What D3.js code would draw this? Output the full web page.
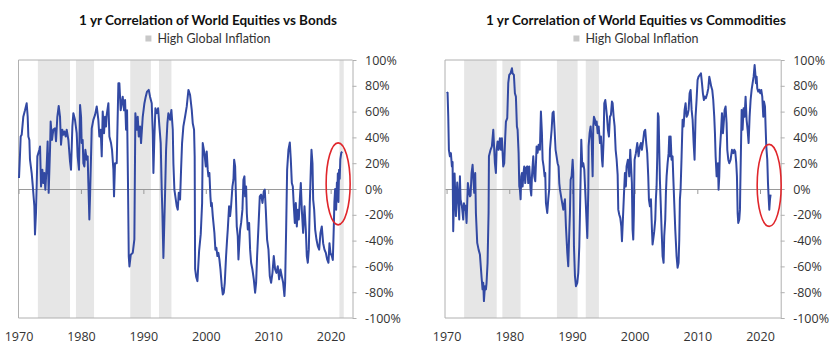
<!DOCTYPE html>
<html><head><meta charset="utf-8">
<script src="https://cdn.jsdelivr.net/npm/d3@7"></script>
<style>body{margin:0;background:#fff}</style>
</head><body>
<svg id="c" width="840" height="357"></svg>
<script>
const bondYears = [1970.08,1970.24,1970.35,1970.51,1970.77,1971.04,1971.31,1971.47,1971.58,1971.74,1971.84,1972.11,1972.27,1972.54,1972.64,1972.80,1972.91,1973.02,1973.34,1973.45,1973.61,1973.82,1973.98,1974.14,1974.30,1974.51,1974.67,1974.83,1975.05,1975.15,1975.37,1975.58,1975.85,1976.01,1976.22,1976.44,1976.65,1976.81,1977.02,1977.18,1977.35,1977.56,1977.72,1977.99,1978.25,1978.41,1978.63,1978.79,1979.05,1979.32,1979.48,1979.69,1979.86,1980.02,1980.12,1980.28,1980.39,1980.55,1980.71,1980.92,1981.08,1981.19,1981.35,1981.46,1981.73,1981.99,1982.26,1982.53,1982.79,1982.95,1983.17,1983.33,1983.49,1983.70,1983.86,1984.02,1984.13,1984.40,1984.56,1984.82,1984.98,1985.20,1985.30,1985.46,1985.73,1986.00,1986.16,1986.37,1986.53,1986.69,1986.91,1987.07,1987.23,1987.39,1987.55,1987.66,1987.77,1987.98,1988.30,1988.56,1988.72,1988.94,1989.10,1989.26,1989.47,1989.63,1989.90,1990.17,1990.38,1990.59,1990.86,1991.07,1991.34,1991.50,1991.61,1991.77,1991.93,1992.14,1992.36,1992.57,1992.78,1992.94,1993.05,1993.21,1993.37,1993.48,1993.64,1993.85,1994.01,1994.28,1994.49,1994.71,1994.81,1994.97,1995.35,1995.51,1995.67,1995.88,1996.04,1996.20,1996.41,1996.68,1996.95,1997.22,1997.48,1997.75,1997.91,1998.12,1998.22,1998.29,1998.45,1998.66,1998.93,1999.19,1999.41,1999.51,1999.78,2000.00,2000.15,2000.31,2000.42,2000.58,2000.74,2000.85,2000.96,2001.12,2001.38,2001.54,2001.70,2001.86,2002.02,2002.18,2002.35,2002.56,2002.72,2002.88,2003.04,2003.25,2003.41,2003.52,2003.73,2003.89,2004.05,2004.27,2004.43,2004.54,2004.70,2004.80,2004.96,2005.12,2005.23,2005.50,2005.66,2005.87,2006.03,2006.19,2006.30,2006.46,2006.57,2006.73,2006.94,2007.10,2007.26,2007.47,2007.69,2007.90,2008.06,2008.22,2008.44,2008.65,2008.86,2009.08,2009.29,2009.45,2009.61,2009.82,2010.04,2010.25,2010.46,2010.68,2010.89,2011.11,2011.32,2011.53,2011.75,2011.96,2012.17,2012.39,2012.60,2012.71,2012.87,2013.03,2013.24,2013.46,2013.62,2013.78,2013.94,2014.10,2014.26,2014.42,2014.58,2014.74,2014.90,2015.06,2015.22,2015.38,2015.59,2015.81,2016.02,2016.18,2016.34,2016.50,2016.66,2016.82,2016.93,2017.09,2017.20,2017.36,2017.52,2017.73,2017.94,2018.16,2018.37,2018.58,2018.80,2019.01,2019.23,2019.44,2019.65,2019.81,2019.97,2020.19,2020.35,2020.50,2020.60,2020.72,2020.88,2021.00,2021.05,2021.15,2021.25,2021.35,2021.45,2021.55,2021.70,2021.84];
const bondValues = [8.5,26.5,40.7,42,56,61,66.5,56,40.7,38,22.7,12.4,3.4,-13.4,-35.3,-18.6,2,25.3,30.4,33,2,15,4.6,12.4,-0.5,17.5,36.9,-3,30.4,52.3,38,46,47,37,56,64.4,56,34.3,46,42,44.6,40.7,46,38,21.4,15,48.5,58.8,53.6,43.3,25.3,15,65.2,56,35.6,38,20,17.5,30.4,22.7,25.3,4.6,-23.7,-5.7,47,53.6,57.5,64,53.6,40.7,46,25.3,60,43.3,56,48.5,57.5,66.5,40.7,35.6,30.4,15,-5.7,20,20,82,82,61,66.5,71.6,61,69,46,61,-0.5,-52,-60,-51,-49.5,-39,58.8,46,56,40.7,48.5,35.6,56,66.5,71.6,75.5,76.8,71.6,66.5,43.3,12.4,40.7,62.6,58.8,62.6,48.5,35.6,-0.5,-18.6,-53.4,-23.7,-3,30.4,51,58.8,53.6,61.3,46,20,-0.5,-13.4,-16,-3,-8.2,15,35.6,48.5,56,64,76.8,73,61.3,51,46,25,-62,-68,-71.4,-48,-35,-11,35.6,27.8,17.5,29,15,9.8,12.4,-5.7,-13.4,-10.8,-21,-34,-47,-45.6,-52,-49.5,-54.6,-62.4,-75.3,-81.7,-80.4,-72.7,-52,-39.2,-31.4,-13.4,-21,-13.4,2,7.2,22.7,17.5,-0.5,-29,-36.6,-54.6,-31.4,-26.3,-16,7.2,9.8,-5.7,2,-18.6,-31.4,-26.3,-47,-57.2,-62.4,-70,-80.4,-72.7,-52,-29,-5.7,-4.4,-10.8,-1.8,-0.5,-16,-39.2,-47,-67.5,-72.7,-65,-52,-62.4,-65,-59.8,-70,-62.4,-67.5,-72.7,-83,-72.7,-31.4,15,30.4,36,22.7,4.6,2,-13.4,-26.3,-10.8,-29,-16,-23.7,-8.2,4.6,-16,-34,-13.4,-31.4,-52,-57.2,-47,-10.8,15,30.4,20,-8.2,-16,-31.4,-39.2,-44.3,-47,-34,-29,-42,-47,-49.5,-54.6,-57.2,-42,-49.5,-52,-55,-30,-10,0,-16,5,-8,12,-10,15,8,23,28,29];

const commYears = [1970.00,1970.16,1970.27,1970.37,1970.53,1970.69,1970.85,1970.96,1971.06,1971.28,1971.49,1971.70,1971.81,1972.02,1972.13,1972.23,1972.45,1972.66,1972.77,1972.93,1973.03,1973.19,1973.40,1973.62,1973.72,1973.83,1973.99,1974.15,1974.26,1974.41,1974.57,1974.68,1974.89,1975.11,1975.32,1975.59,1975.74,1975.85,1975.96,1976.12,1976.28,1976.38,1976.54,1976.70,1976.76,1977.02,1977.23,1977.45,1977.55,1977.71,1977.87,1977.98,1978.14,1978.30,1978.51,1978.67,1978.83,1979.04,1979.20,1979.36,1979.47,1979.68,1979.84,1980.00,1980.21,1980.43,1980.53,1980.74,1980.90,1981.06,1981.22,1981.33,1981.49,1981.60,1981.70,1981.81,1981.91,1982.02,1982.13,1982.23,1982.39,1982.55,1982.66,1982.87,1983.03,1983.19,1983.40,1983.51,1983.62,1983.83,1983.99,1984.15,1984.36,1984.52,1984.68,1984.89,1985.05,1985.21,1985.32,1985.48,1985.64,1985.74,1985.85,1986.06,1986.22,1986.38,1986.49,1986.76,1986.91,1987.07,1987.23,1987.39,1987.55,1987.71,1987.87,1987.98,1988.09,1988.35,1988.62,1988.88,1989.04,1989.26,1989.41,1989.57,1989.68,1989.79,1989.95,1990.11,1990.21,1990.32,1990.48,1990.64,1990.85,1991.01,1991.17,1991.28,1991.49,1991.65,1991.81,1991.97,1992.18,1992.45,1992.61,1992.66,1992.82,1992.98,1993.14,1993.30,1993.40,1993.51,1993.67,1993.78,1993.94,1994.10,1994.26,1994.47,1994.63,1994.79,1994.89,1995.05,1995.16,1995.32,1995.43,1995.59,1995.74,1995.90,1996.06,1996.22,1996.38,1996.49,1996.65,1996.81,1996.97,1997.13,1997.29,1997.39,1997.55,1997.71,1997.87,1997.98,1998.29,1998.45,1998.61,1998.71,1998.93,1999.14,1999.30,1999.46,1999.56,1999.67,1999.78,1999.88,1999.99,2000.20,2000.42,2000.63,2000.84,2001.00,2001.16,2001.37,2001.53,2001.69,2001.85,2002.01,2002.17,2002.28,2002.44,2002.60,2002.76,2002.86,2002.97,2003.13,2003.29,2003.39,2003.50,2003.61,2003.71,2003.82,2003.93,2004.03,2004.14,2004.30,2004.46,2004.62,2004.72,2004.88,2004.99,2005.10,2005.26,2005.42,2005.52,2005.63,2005.74,2005.89,2006.05,2006.16,2006.32,2006.48,2006.69,2006.85,2007.01,2007.12,2007.22,2007.33,2007.49,2007.65,2007.81,2007.97,2008.13,2008.29,2008.45,2008.61,2008.77,2008.93,2009.09,2009.25,2009.41,2009.56,2009.72,2009.88,2010.04,2010.20,2010.42,2010.58,2010.74,2010.89,2011.05,2011.21,2011.37,2011.59,2011.75,2011.91,2012.07,2012.22,2012.38,2012.54,2012.70,2012.81,2012.92,2013.08,2013.18,2013.29,2013.39,2013.50,2013.61,2013.77,2013.93,2014.09,2014.25,2014.35,2014.51,2014.67,2014.78,2014.94,2015.10,2015.31,2015.52,2015.74,2015.89,2016.05,2016.21,2016.32,2016.43,2016.53,2016.69,2016.80,2016.85,2017.07,2017.22,2017.38,2017.54,2017.70,2017.86,2018.02,2018.18,2018.34,2018.50,2018.66,2018.82,2018.98,2019.14,2019.25,2019.35,2019.46,2019.56,2019.72,2019.88,2020.04,2020.20,2020.36,2020.52,2020.63,2020.79,2020.89,2021.00,2021.16,2021.27,2021.37,2021.48,2021.59,2021.69];
const commValues = [74,74.7,56,30.4,25.3,27.8,17.5,21,-32.7,12,-21,5,-3,-23.7,9.8,-8,-13.4,-23.7,-11,-16,-13,-26.3,4.6,-3,-5.7,-5,12.4,18.8,9.8,-3,12.4,-18.6,-41.8,-47,-50.8,-68.8,-77.8,-72.7,-86.9,-75.3,-77.8,-72.7,-57.2,-18.6,25.3,30.4,33,45.9,35.6,20,12.4,30.4,36.9,30.4,39.4,30.4,39.4,17.5,20,40.7,52.3,55,82,88.4,89.7,93.6,89.7,88.4,74.2,71.6,48.5,45.9,27.8,2,-0.5,-8,9.8,12.4,2,9.8,17.5,4.6,16.2,17.5,4.6,17.5,-0.5,-5,9.8,25.3,9.8,6,33,28,34.3,30.4,60,43.3,22.7,17.5,9.8,12.4,-10.8,-18.6,-8,0,30.4,45.9,58.8,60,45.9,30.4,25.3,20,17.5,4.6,-0.5,-8.2,-16,-8,-28.9,-49.5,-59.8,-34,-18.6,7.2,10,22.7,12.4,-44.3,-67.5,-75.3,-72.7,-65,-44.3,-18.6,38.1,17.5,20,15,-8.2,-37.9,-0.5,33,43.3,48.5,38,9.8,48.5,56,53.6,49.7,52.3,43.3,48.5,35.6,40.7,22.7,17.5,38,66.5,69,64,56,45.9,40.7,56,57.5,67.8,66.5,56,48.5,30.4,22.7,11,-16,-20,-22.4,-28.9,-40.5,-5,12.4,2,17.5,22.7,9.8,30.4,15,4.6,-31.4,-39.2,-18.6,22.7,27.8,35.6,25.3,33,35.6,30.4,38.1,44.6,45.9,35.6,27.8,9.8,-8.2,-13.4,-8,-31.4,-43,-39,-32.7,-23.7,-8,2,25.3,58.8,56,30.4,7.2,-8.2,-31.4,-52,-57.2,-36.6,-23.7,-3,9.8,20,27.8,40.7,25.3,40.7,22.7,25.3,9.8,-10.8,-31.4,-52,-61,-57.2,-39.2,-8.2,-0.5,25.3,53.6,48.5,61.3,66.5,56,57.5,61.3,74.2,76.8,61.3,53.6,35.6,22.7,56,69,84.5,87.1,88.4,89.7,82,74.2,69,71.6,70.4,74.2,78,87.1,83.2,79.4,76.8,69,56,43.3,25.3,9.8,17.5,20,-0.5,9.8,30.4,43.3,58.8,43.3,53.6,61.3,64,51,30.4,22.7,20,22.7,30.4,27.8,30.4,29,20,9.8,-18.6,-26.3,-23.7,-16,0,61.3,45.9,62.6,56,71.6,53.6,45.9,35.6,56,69,76.8,82,87.1,96.1,89.7,82,87.1,78,75.5,77,74.2,76.8,71.6,56,67.8,64,48.5,33,22.7,4.6,-5.7,-16,-8,-4.4];

const bondInflation = [[1973.1,1978.25],[1979.2,1982.1],[1987.9,1991.2],[1992.5,1994.5],[2021.4,2022.1]];
const commInflation = [[1972.8,1978.0],[1978.9,1981.8],[1987.6,1990.9],[1992.2,1994.3]];
const yTicks = [-100,-80,-60,-40,-20,0,20,40,60,80,100];
const xTicks = [1970,1980,1990,2000,2010,2020];
const titles = ["1 yr Correlation of World Equities vs Bonds","1 yr Correlation of World Equities vs Commodities"];
const legendLabel = "High Global Inflation";
const highlight = [[2021.2,4],[2021.46,2.8]];

const svg = d3.select("#c");
const FONT = "'Open Sans', sans-serif";
const TFONT = "Lato, 'Open Sans', sans-serif";

const charts = [
  {title: titles[0], years: bondYears, values: bondValues, bands: bondInflation, dom:[1970,2023.5], rng:[18.5,352.5], cx:208, hl: highlight[0]},
  {title: titles[1], years: commYears, values: commValues, bands: commInflation, dom:[1969.75,2023.3], rng:[445,780.7], cx:636, hl: highlight[1]}
];

const y = d3.scaleLinear().domain([-100,100]).range([318,60]);

charts.forEach(c => {
  const g = svg.append("g");
  const x = d3.scaleLinear().domain(c.dom).range(c.rng);
  g.selectAll("rect.band").data(c.bands).enter().append("rect")
    .attr("x", d => x(d[0])).attr("width", d => x(d[1]) - x(d[0]))
    .attr("y", y(100)).attr("height", y(-100) - y(100))
    .attr("fill", "#e6e6e6");
  const fc = "#b0b0b0";
  g.append("line").attr("x1", c.rng[0]).attr("x2", c.rng[1]).attr("y1", y(100)).attr("y2", y(100)).attr("stroke", fc);
  g.append("line").attr("x1", c.rng[0]).attr("x2", c.rng[1]).attr("y1", y(-100)).attr("y2", y(-100)).attr("stroke", fc);
  g.append("line").attr("x1", c.rng[0]).attr("x2", c.rng[0]).attr("y1", y(100)).attr("y2", y(-100)).attr("stroke", fc);
  const zx = g.append("g").attr("transform", `translate(0,${y(0)})`)
    .call(d3.axisBottom(x).tickValues(xTicks).tickSize(5).tickSizeOuter(0).tickFormat(""));
  zx.select(".domain").attr("stroke", "#9a9a9a");
  zx.selectAll(".tick line").attr("stroke", "#9a9a9a");
  const bx = g.append("g").attr("transform", `translate(0,${y(-100)})`)
    .call(d3.axisBottom(x).tickValues(xTicks).tickSize(0).tickPadding(14.5).tickFormat(d3.format("d")));
  bx.select(".domain").remove();
  bx.selectAll("text").attr("font-family", FONT).attr("font-size", 12.5).attr("fill", "#333");
  const ya = g.append("g").attr("transform", `translate(${c.rng[1]},0)`)
    .call(d3.axisRight(y).tickValues(yTicks).tickSize(4).tickSizeOuter(0).tickPadding(8.5).tickFormat(d => d + "%"));
  ya.select(".domain").attr("stroke", fc);
  ya.selectAll(".tick line").attr("stroke", fc);
  ya.selectAll("text").attr("font-family", FONT).attr("font-size", 12.5).attr("fill", "#333");
  const pts = c.years.map((yr, i) => [yr, c.values[i]]);
  g.append("path").datum(pts)
    .attr("d", d3.line().x(d => x(d[0])).y(d => y(d[1])))
    .attr("fill", "none").attr("stroke", "#3249a3").attr("stroke-width", 2).attr("stroke-linejoin", "round");
  g.append("ellipse").attr("cx", x(c.hl[0])).attr("cy", y(c.hl[1])).attr("rx", 12).attr("ry", 41)
    .attr("fill", "none").attr("stroke", "#e0262b").attr("stroke-width", 1.6);
  g.append("text").attr("x", c.cx).attr("y", 25).attr("text-anchor", "middle")
    .attr("font-family", TFONT).attr("font-weight", 700).attr("font-size", 13.5).attr("fill", "#111")
    .text(c.title);
  const lg = g.append("g");
  const lt = lg.append("text").attr("y", 43).attr("font-family", TFONT).attr("font-size", 12.5).attr("fill", "#333").text(legendLabel);
  const w = lt.node().getComputedTextLength();
  const total = w + 12;
  const sx = c.cx - total/2;
  lg.append("rect").attr("x", sx).attr("y", 35.5).attr("width", 6).attr("height", 6).attr("fill", "#c8c8c8");
  lt.attr("x", sx + 12);
});
</script>
</body></html>
